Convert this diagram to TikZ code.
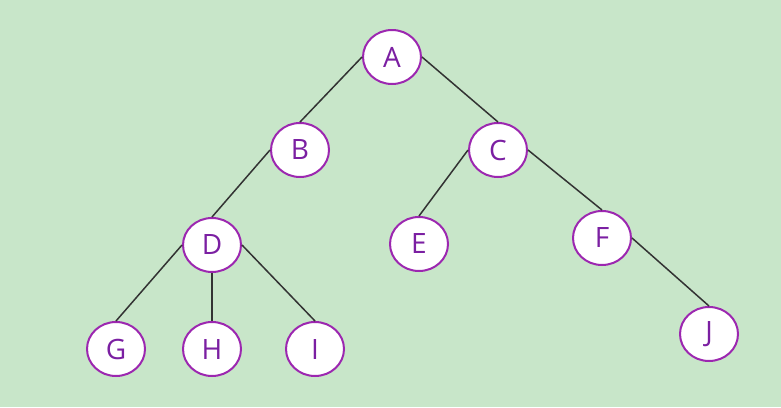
\documentclass[tikz,border=0pt]{standalone}
\usepackage{fontspec}
\setmainfont{Open Sans}
\usetikzlibrary{shapes.geometric}
\definecolor{bg}{HTML}{C8E6C9}
\definecolor{nodeborder}{HTML}{9C27B0}
\definecolor{nodetext}{HTML}{7B1FA2}
\definecolor{edgecol}{HTML}{333333}
\tikzset{
  treenode/.style={ellipse, draw=nodeborder, line width=2pt, fill=white, text=nodetext,
    minimum width=58pt, minimum height=54pt, inner sep=0pt, font=\fontsize{28}{28}\selectfont},
  edge/.style={draw=edgecol, line width=1.5pt}
}
\begin{document}
\begin{tikzpicture}[x=1pt,y=-1pt]
\fill[bg] (0,0) rectangle (781,407);
\useasboundingbox (0,0) rectangle (781,407);
\node[treenode] (A) at (392,57) {A};
\node[treenode] (B) at (300,150) {B};
\node[treenode] (C) at (498,150) {C};
\node[treenode] (D) at (212,245) {D};
\node[treenode] (E) at (419,244) {E};
\node[treenode] (F) at (602,238) {F};
\node[treenode] (G) at (116,349) {G};
\node[treenode] (H) at (212,349) {H};
\node[treenode] (I) at (315,349) {I};
\node[treenode] (J) at (709,334) {J};
\draw[edge] (A.west) -- (B.north);
\draw[edge] (A.east) -- (C.north);
\draw[edge] (B.west) -- (D.north);
\draw[edge] (C.west) -- (E.north);
\draw[edge] (C.east) -- (F.north);
\draw[edge] (D.west) -- (G.north);
\draw[edge] (D.south) -- (H.north);
\draw[edge] (D.east) -- (I.north);
\draw[edge] (F.east) -- (J.north);
\end{tikzpicture}
\end{document}
